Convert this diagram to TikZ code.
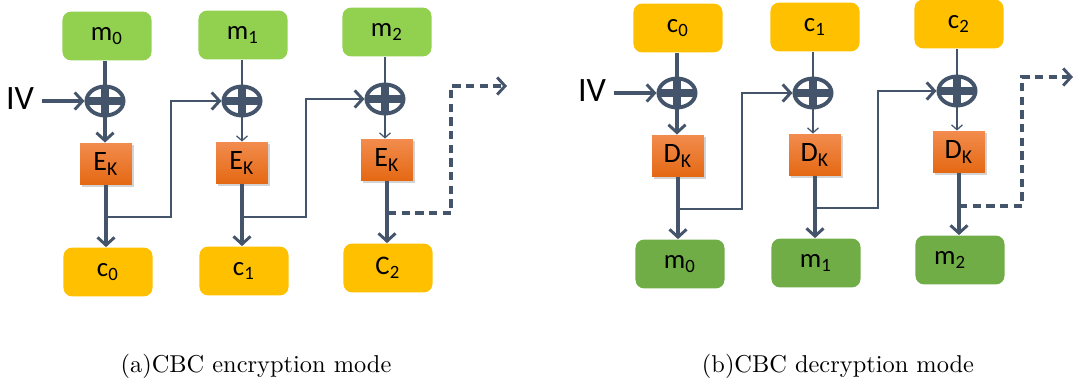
\documentclass[tikz,border=0pt]{standalone}
\usepackage{fontspec}
\newfontfamily\boxfont{Carlito}
\usetikzlibrary{arrows.meta,shadows,shapes.geometric}
\definecolor{lgreen}{RGB}{146,208,80}
\definecolor{dgreen}{RGB}{112,173,71}
\definecolor{gold}{RGB}{255,192,0}
\definecolor{otop}{RGB}{242,140,78}
\definecolor{obot}{RGB}{228,104,18}
\definecolor{ln}{RGB}{68,84,106}
\begin{document}
\begin{tikzpicture}[x=0.41pt,y=-0.41pt,
  blk/.style={rounded corners=3.5pt, minimum width=36.5pt, minimum height=20pt,
    inner sep=0pt, font=\boxfont\fontsize{11}{13}\selectfont},
  mbox/.style={blk, fill=lgreen},
  mdbox/.style={blk, fill=dgreen},
  cbox/.style={blk, fill=gold},
  ebox/.style={minimum width=21.3pt, minimum height=17.2pt, inner sep=0pt,
    top color=otop, bottom color=obot,
    drop shadow={opacity=0.35, shadow xshift=0.8pt, shadow yshift=-0.8pt, fill=gray},
    font=\boxfont\fontsize{11.5}{13}\selectfont},
  xorc/.style={ellipse, draw=ln, line width=1.6pt, fill=white,
    minimum width=15.2pt, minimum height=11.9pt, inner sep=0pt,
    path picture={
      \draw[ln, line width=3pt] (path picture bounding box.north) -- (path picture bounding box.south);
      \draw[ln, line width=3pt] (path picture bounding box.west) -- (path picture bounding box.east);}},
  thk/.style={draw=ln, line width=1.4pt},
  thn/.style={draw=ln, line width=0.5pt},
  chn/.style={draw=ln, line width=1.15pt},
  tipk/.style={-{Straight Barb[length=3.2pt,width=7pt,line width=1.2pt]}},
  tipn/.style={-{Straight Barb[length=2pt,width=4.5pt,line width=0.5pt]}},
  ivtxt/.style={font=\boxfont\fontsize{14}{16}\selectfont, inner sep=1pt},
  captxt/.style={font=\rmfamily\fontsize{10}{12}\selectfont},
  dsh/.style={line width=1.35pt, dash pattern=on 3.4pt off 2.2pt}
]
\useasboundingbox (0,0) rectangle (1075,387);

% ---------------- (a) encryption ----------------
\node[mbox] (ma0) at (107,36) {m\textsubscript{0}};
\node[mbox] (ma1) at (243,35) {m\textsubscript{1}};
\node[mbox] (ma2) at (387,32) {m\textsubscript{2}};
\node[xorc] (xa0) at (105,101) {};
\node[xorc] (xa1) at (242,101) {};
\node[xorc] (xa2) at (385,99) {};
\node[ebox] (ea0) at (106,164) {E\textsubscript{K}};
\node[ebox] (ea1) at (242,163) {E\textsubscript{K}};
\node[ebox] (ea2) at (387,160) {E\textsubscript{K}};
\node[cbox] (ca0) at (108,272) {c\textsubscript{0}};
\node[cbox] (ca1) at (244,271) {c\textsubscript{1}};
\node[cbox] (ca2) at (388,268) {C\textsubscript{2}};
\node[ivtxt] (iva) at (20,99) {IV};

\draw[thk] (xa0.north |- ma0.south) -- (xa0.north);
\draw[thn] (xa1.north |- ma1.south) -- (xa1.north);
\draw[thn] (xa2.north |- ma2.south) -- (xa2.north);
\draw[thk,tipk] (xa0.south) -- (xa0.south |- ea0.north);
\draw[thn,tipn] (xa1.south) -- (xa1.south |- ea1.north);
\draw[thn,tipn] (xa2.south) -- (xa2.south |- ea2.north);
\draw[thk,tipk] (ea0.south) -- (ea0.south |- ca0.north);
\draw[thk,tipk] (ea1.south) -- (ea1.south |- ca1.north);
\draw[thk,tipk] (ea2.south) -- (ea2.south |- ca2.north);
\draw[thk,tipk] ([xshift=2pt]iva.east |- xa0.west) -- (xa0.west);

\coordinate (ja0) at (107,217);
\coordinate (ka0) at (171,217);
\coordinate (ja1) at (244,217);
\coordinate (ka1) at (306,217);
\coordinate (ja2) at (388,213);
\coordinate (ka2) at (451,213);
\coordinate (fa) at (507,86);
\draw[chn,tipk] (ja0) -- (ka0) |- (xa1.west);
\draw[chn,tipk] (ja1) -- (ka1) |- (xa2.west);
\draw[chn,tipk,dsh] (ja2) -- (ka2) |- (fa);

\node[captxt] (capa) at (256,366) {(a)CBC encryption mode};

% ---------------- (b) decryption ----------------
\node[cbox] (cb0) at (678,28) {c\textsubscript{0}};
\node[cbox] (cb1) at (815,27) {c\textsubscript{1}};
\node[cbox] (cb2) at (959,24) {c\textsubscript{2}};
\node[xorc] (xb0) at (677,93) {};
\node[xorc] (xb1) at (813,93) {};
\node[xorc] (xb2) at (957,91) {};
\node[ebox] (db0) at (678,156) {D\textsubscript{K}};
\node[ebox] (db1) at (815,155) {D\textsubscript{K}};
\node[ebox] (db2) at (959,152) {D\textsubscript{K}};
\node[mdbox] (mb0) at (680,264) {m\textsubscript{0}};
\node[mdbox] (mb1) at (816,263) {m\textsubscript{1}};
\node[mdbox] (mb2) at (960,260) {\hspace*{-8pt}m\textsubscript{2}};
\node[ivtxt] (ivb) at (592,91) {IV};

\draw[thk] (xb0.north |- cb0.south) -- (xb0.north);
\draw[thn] (xb1.north |- cb1.south) -- (xb1.north);
\draw[thn] (xb2.north |- cb2.south) -- (xb2.north);
\draw[thk,tipk] (xb0.south) -- (xb0.south |- db0.north);
\draw[thn,tipn] (xb1.south) -- (xb1.south |- db1.north);
\draw[thn,tipn] (xb2.south) -- (xb2.south |- db2.north);
\draw[thk,tipk] (db0.south) -- (db0.south |- mb0.north);
\draw[thk,tipk] (db1.south) -- (db1.south |- mb1.north);
\draw[thk,tipk] (db2.south) -- (db2.south |- mb2.north);
\draw[thk,tipk] ([xshift=2pt]ivb.east |- xb0.west) -- (xb0.west);

\coordinate (jb0) at (678,209);
\coordinate (kb0) at (742,209);
\coordinate (jb1) at (815,208);
\coordinate (kb1) at (878,208);
\coordinate (jb2) at (959,206);
\coordinate (kb2) at (1022,206);
\coordinate (fb) at (1073,77);
\draw[chn,tipk] (jb0) -- (kb0) |- (xb1.west);
\draw[chn,tipk] (jb1) -- (kb1) |- (xb2.west);
\draw[chn,tipk,dsh] (jb2) -- (kb2) |- (fb);

\node[captxt] (capb) at (838,366) {(b)CBC decryption mode};
\end{tikzpicture}
\end{document}
